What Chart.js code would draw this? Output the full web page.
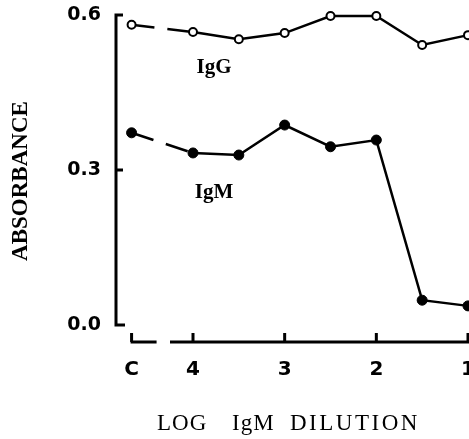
<!DOCTYPE html>
<html>
<head>
<meta charset="utf-8">
<script src="https://cdn.jsdelivr.net/npm/chart.js@4.4.1/dist/chart.umd.min.js"></script>
<style>
  html, body { margin: 0; padding: 0; background: #fff; }
  #wrap { width: 469px; height: 439px; }
</style>
</head>
<body>
<div id="wrap"><canvas id="chart"></canvas></div>
<script>
// control well is plotted left of the "4" mark, past a break in the axis
const CONTROL = 4.67;
const dilution = [CONTROL, 4, 3.5, 3, 2.5, 2, 1.5, 1];
const igG = [0.581, 0.567, 0.553, 0.565, 0.598, 0.598, 0.542, 0.561];
const igM = [0.372, 0.333, 0.329, 0.387, 0.345, 0.358, 0.048, 0.037];
const xTicks = [CONTROL, 4, 3, 2, 1];
const xTickLabels = ['C', '4', '3', '2', '1'];
const yTicks = [0, 0.3, 0.6];

const toPoints = (vals) => vals.map((v, i) => ({ x: dilution[i], y: v }));

// dashed link between the control and the first dilution
const breakDash = (ctx) => (ctx.p0DataIndex === 0 ? [23, 13] : undefined);

const axesPlugin = {
    id: 'axes',
    beforeDatasetsDraw(chart) {
        const { ctx, chartArea, scales } = chart;
        const x = scales.x, y = scales.y;
        ctx.save();
        ctx.strokeStyle = '#000';
        ctx.lineWidth = 3;
        ctx.lineCap = 'butt';

        // y axis with inward ticks and a short foot at zero
        const x0 = chartArea.left;
        const yTop = y.getPixelForValue(0.6);
        const yMid = y.getPixelForValue(0.3);
        const yBot = y.getPixelForValue(0);
        ctx.beginPath();
        ctx.moveTo(x0 + 7, yTop);
        ctx.lineTo(x0, yTop);
        ctx.lineTo(x0, yBot);
        ctx.lineTo(x0 + 9, yBot);
        ctx.moveTo(x0, yMid);
        ctx.lineTo(x0 + 7, yMid);
        ctx.stroke();

        // x axis sits below the plot, broken between C and 4
        const ya = chartArea.bottom + 17;
        const xC = x.getPixelForValue(CONTROL);
        const x4 = x.getPixelForValue(4);
        const xEnd = x.getPixelForValue(1);
        ctx.beginPath();
        ctx.moveTo(xC - 1, ya);
        ctx.lineTo(xC + 25, ya);
        ctx.moveTo(x4 - 23, ya);
        ctx.lineTo(xEnd + 2, ya);
        xTicks.forEach((v) => {
            const px = x.getPixelForValue(v);
            ctx.moveTo(px, ya);
            ctx.lineTo(px, ya - 9);
        });
        ctx.stroke();
        ctx.restore();
    },
    afterDraw(chart) {
        const { ctx, chartArea, scales } = chart;
        const x = scales.x, y = scales.y;
        ctx.save();
        ctx.fillStyle = '#000';

        // x tick labels (drawn here so the clipped "1" at the edge adds no padding)
        ctx.font = 'bold 20px "DejaVu Sans"';
        ctx.textAlign = 'center';
        ctx.textBaseline = 'alphabetic';
        xTicks.forEach((v, i) => {
            ctx.fillText(xTickLabels[i], x.getPixelForValue(v), chartArea.bottom + 50);
        });

        // series names inside the plot
        ctx.font = 'bold 21px "Liberation Serif"';
        ctx.fillText('IgG', x.getPixelForValue(3.77), y.getPixelForValue(0.488));
        ctx.fillText('IgM', x.getPixelForValue(3.77), y.getPixelForValue(0.246));

        // axis titles
        ctx.save();
        ctx.translate(27, 181);
        ctx.rotate(-Math.PI / 2);
        ctx.font = 'bold 23px "Liberation Serif"';
        ctx.fillText('ABSORBANCE', 0, 0);
        ctx.restore();

        ctx.font = '23px "Liberation Serif"';
        ctx.textAlign = 'left';
        ctx.letterSpacing = '1px';
        ctx.fillText('LOG', 157, 430);
        ctx.fillText('IgM', 232, 430);
        ctx.letterSpacing = '2.5px';
        ctx.fillText('DILUTION', 290, 430);
        ctx.restore();
    }
};

new Chart(document.getElementById('chart'), {
    type: 'line',
    data: {
        datasets: [
            {
                label: 'IgG',
                data: toPoints(igG),
                borderColor: '#000',
                borderWidth: 2.5,
                pointRadius: 4,
                pointBorderWidth: 2,
                pointBackgroundColor: '#fff',
                pointBorderColor: '#000',
                segment: { borderDash: breakDash },
            },
            {
                label: 'IgM',
                data: toPoints(igM),
                borderColor: '#000',
                borderWidth: 2.5,
                pointRadius: 5,
                pointBorderWidth: 1,
                pointBackgroundColor: '#000',
                pointBorderColor: '#000',
                segment: { borderDash: breakDash },
            },
        ],
    },
    options: {
        animation: false,
        responsive: true,
        maintainAspectRatio: false,
        clip: false,
        layout: { autoPadding: false, padding: { top: 15, right: 1, left: 0, bottom: 0 } },
        plugins: { legend: { display: false }, tooltip: { enabled: false } },
        scales: {
            x: {
                type: 'linear',
                reverse: true,
                min: 1,
                max: 4.84,
                afterBuildTicks: (s) => { s.ticks = xTicks.map((v) => ({ value: v })); },
                afterFit: (s) => { s.height = 114; },
                grid: { display: false, drawTicks: false },
                border: { display: false },
                ticks: { display: false },
            },
            y: {
                min: 0,
                max: 0.6,
                afterBuildTicks: (s) => { s.ticks = yTicks.map((v) => ({ value: v })); },
                afterFit: (s) => { s.width = 116; s.paddingTop = 0; s.paddingBottom = 0; },
                grid: { display: false, drawTicks: false },
                border: { display: false },
                ticks: {
                    padding: 15,
                    color: '#000',
                    font: { family: '"DejaVu Sans"', size: 19, weight: 'bold' },
                    callback: (v) => v.toFixed(1),
                },
            },
        },
    },
    plugins: [axesPlugin],
});
</script>
</body>
</html>
